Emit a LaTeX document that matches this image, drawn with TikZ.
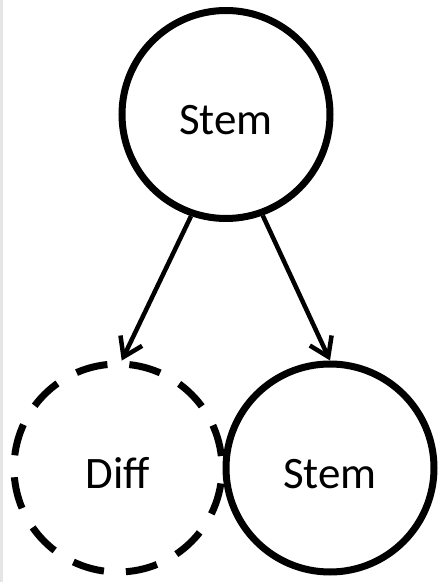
\documentclass[tikz,border=0pt]{standalone}
\usepackage{fontspec}
\setmainfont{Carlito}
\usetikzlibrary{positioning,arrows.meta}
\definecolor{edgegray}{gray}{0.9}

\begin{document}
\begin{tikzpicture}[x=1pt,y=1pt,
  cell/.style={circle, draw=black, line width=7pt, minimum size=208pt, inner sep=0pt,
    font=\fontsize{45}{54}\selectfont, text height=41pt, text depth=0pt},
  diffcell/.style={cell, dash pattern=on 32pt off 22pt, dash phase=42pt}, % differentiated cell
  lineage/.style={line width=4.5pt, -{Straight Barb[length=18pt,width=24pt]}}]
\useasboundingbox (0,0) rectangle (438,582);
\fill[edgegray] (0,0) rectangle (3,582); % thin strip on the left
\node[cell] (stem) at (226,467.5) {Stem};
\node[diffcell] (diff) at (118,114) {Diff};
\node[cell] (stemright) at (330,114) {Stem};
\draw[lineage] (stem.251) -- (diff.88);
\draw[lineage] (stem.290) -- (stemright.90);
\end{tikzpicture}
\end{document}
